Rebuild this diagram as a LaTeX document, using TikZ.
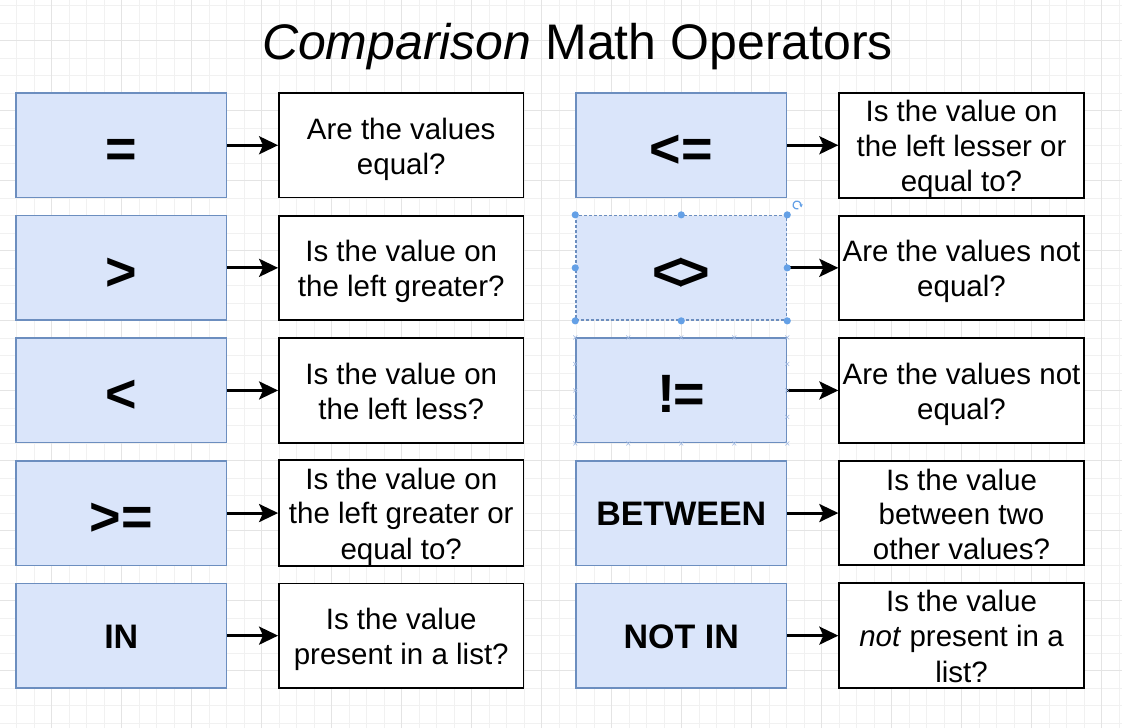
\documentclass[tikz,border=0pt]{standalone}
\usepackage{fontspec}
\setmainfont{Liberation Sans}
\usetikzlibrary{arrows.meta,calc}
\definecolor{bfill}{RGB}{218,229,250}
\definecolor{bdraw}{RGB}{108,142,191}
\definecolor{gminor}{RGB}{241,241,241}
\definecolor{gmajor}{RGB}{228,228,228}
\definecolor{handle}{RGB}{100,160,230}
\definecolor{cpt}{RGB}{160,185,225}
\newcommand\ls{\rule[-5.5pt]{0pt}{34.5pt}}
\begin{document}
\begin{tikzpicture}[x=1pt,y=-1pt,
  opbox/.style={draw=bdraw, fill=bfill, line width=1.5pt, minimum width=210.5pt,
    minimum height=104.5pt, inner sep=0pt},
  symtext/.style={font=\bfseries\fontsize{54}{54}\selectfont, text height=45pt, text depth=0pt},
  wordtext/.style={font=\bfseries\fontsize{34}{34}\selectfont, text height=25pt, text depth=0pt},
  descbox/.style={draw=black, fill=white, line width=1.8pt, minimum width=244.5pt,
    minimum height=104.5pt, inner sep=0pt, align=center,
    font=\fontsize{29.5}{34.8}\selectfont},
  arr/.style={line width=3pt, -{Stealth[length=19pt,width=18pt,inset=4pt]}},
  gridminor/.style={gminor, line width=0.8pt},
  gridmajor/.style={gmajor, line width=0.9pt},
  selhandle/.style={fill=handle},
]
\useasboundingbox (0,0) rectangle (1122,728);
\fill[white] (0,0) rectangle (1122,728);
% grid
\foreach \i in {0,...,64} \draw[gridminor] (-0.8+17.5*\i,0) -- (-0.8+17.5*\i,728);
\foreach \j in {0,...,41} \draw[gridminor] (0,5.8+17.5*\j) -- (1122,5.8+17.5*\j);
\foreach \i in {0,...,16} \draw[gridmajor] (-18.3+70*\i,0) -- (-18.3+70*\i,728);
\foreach \j in {0,...,10} \draw[gridmajor] (0,40.8+70*\j) -- (1122,40.8+70*\j);

% title
\node[anchor=base, inner sep=0pt, font=\fontsize{50}{50}\selectfont] (title) at (577.5,59)
  {\itshape Comparison\upshape{} Math Operators};

% left column
\node[opbox, symtext] (l1) at (121.25,145.25) {=};
\node[opbox, symtext] (l2) at (121.25,267.85) {>};
\node[opbox, symtext] (l3) at (121.25,390.45) {<};
\node[opbox, symtext] (l4) at (121.25,513.05) {>=};
\node[opbox, wordtext] (l5) at (121.25,635.65) {IN};

\node[descbox] (d1) at (401.25,145.25) {\ls Are the values\\\ls equal?};
\node[descbox] (d2) at (401.25,267.85) {\ls Is the value on\\\ls the left greater?};
\node[descbox] (d3) at (401.25,390.45) {\ls Is the value on\\\ls the left less?};
\node[descbox] (d4) at (401.25,513.05) {\ls Is the value on\\\ls the left greater or\\\ls equal to?};
\node[descbox] (d5) at (401.25,635.65) {\ls Is the value\\\ls present in a list?};

% right column
\node[opbox, symtext] (r1) at (681.25,145.25) {<=};
\node[opbox, symtext, dash pattern=on 3pt off 2pt] (r2) at (681.25,267.85) {<\kern-5pt>};
\node[opbox, symtext] (r3) at (681.25,390.45) {!\kern-2pt=};
\node[opbox, wordtext] (r4) at (681.25,513.05) {BETWEEN};
\node[opbox, wordtext] (r5) at (681.25,635.65) {NOT IN};

\node[descbox] (e1) at (961.5,145.25) {\ls Is the value on\\\ls the left lesser or\\\ls equal to?};
\node[descbox] (e2) at (961.5,267.85) {\ls Are the values not\\\ls equal?};
\node[descbox] (e3) at (961.5,390.45) {\ls Are the values not\\\ls equal?};
\node[descbox] (e4) at (961.5,513.05) {\ls Is the value\\\ls between two\\\ls other values?};
\node[descbox] (e5) at (961.5,635.65) {\ls Is the value\\\ls \textit{not} present in a\\\ls list?};

% connectors
\foreach \a/\b in {l1/d1,l2/d2,l3/d3,l4/d4,l5/d5,r1/e1,r2/e2,r3/e3,r4/e4,r5/e5}
  \draw[arr] (\a.east) -- (\b.west);

% selection handles on r2
\foreach \p in {north west,north,north east,west,east,south west,south,south east}
  \fill[selhandle] (r2.\p) circle (3.6pt);
\coordinate (rot) at (797,205);
\draw[handle, line width=1.2pt] (rot) ++(70:4) arc (70:380:4);
\fill[handle] (rot) ++(20:4) ++(-1.5,-2) -- ++(3.5,0) -- ++(-1.5,3) -- cycle;

% connection points on r3
\foreach \f in {0,0.25,0.5,0.75,1} {
  \draw[cpt, line width=0.6pt] ($(r3.north west)!\f!(r3.north east)+(-2,-2)$) -- ++(4,4) ++(-4,0) -- ++(4,-4);
  \draw[cpt, line width=0.6pt] ($(r3.south west)!\f!(r3.south east)+(-2,-2)$) -- ++(4,4) ++(-4,0) -- ++(4,-4);
}
\foreach \f in {0.25,0.5,0.75} {
  \draw[cpt, line width=0.6pt] ($(r3.north west)!\f!(r3.south west)+(-2,-2)$) -- ++(4,4) ++(-4,0) -- ++(4,-4);
  \draw[cpt, line width=0.6pt] ($(r3.north east)!\f!(r3.south east)+(-2,-2)$) -- ++(4,4) ++(-4,0) -- ++(4,-4);
}
\end{tikzpicture}
\end{document}
